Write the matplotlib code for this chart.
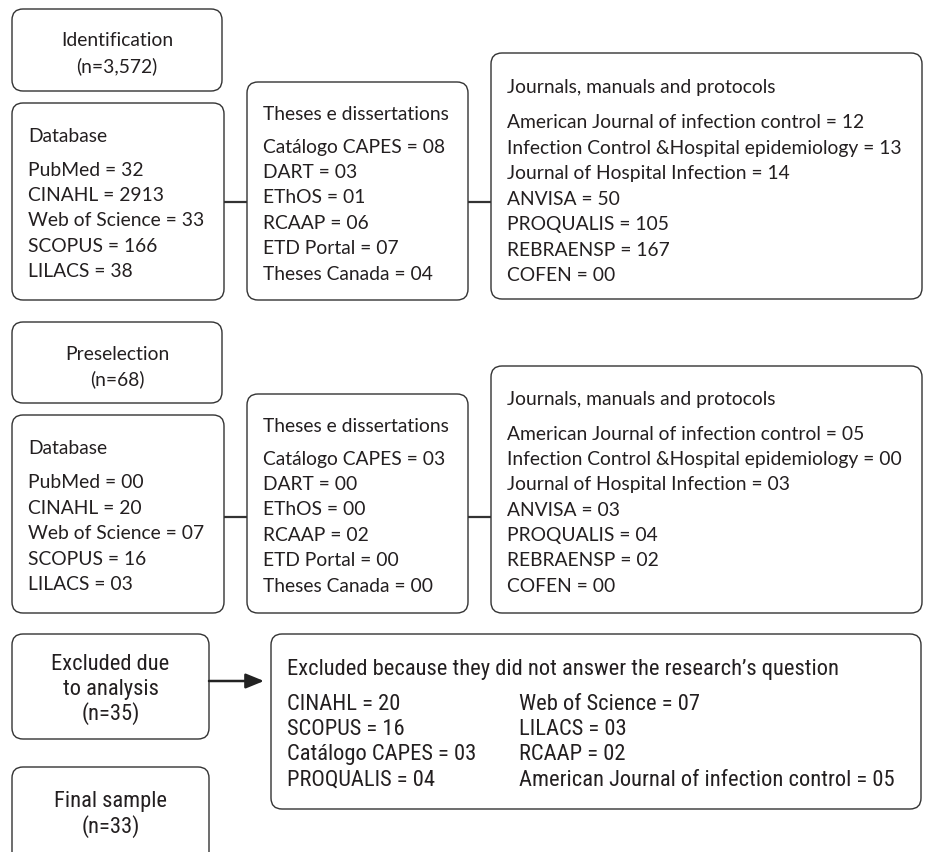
import matplotlib
matplotlib.use('Agg')
import matplotlib.pyplot as plt
from matplotlib.patches import FancyBboxPatch
from matplotlib import font_manager

# --- Data ---
stage_titles = [['Identification', '(n=3,572)'], ['Preselection', '(n=68)']]

db_title = 'Database'
db_sources = ['PubMed', 'CINAHL', 'Web of Science', 'SCOPUS', 'LILACS']
db_ident = ['32', '2913', '33', '166', '38']
db_presel = ['00', '20', '07', '16', '03']

theses_title = 'Theses e dissertations'
theses_sources = ['Catálogo CAPES', 'DART', 'EThOS', 'RCAAP', 'ETD Portal', 'Theses Canada']
theses_ident = ['08', '03', '01', '06', '07', '04']
theses_presel = ['03', '00', '00', '02', '00', '00']

journal_title = 'Journals, manuals and protocols'
journal_sources = ['American Journal of infection control', 'Infection Control &Hospital epidemiology',
                   'Journal of Hospital Infection', 'ANVISA', 'PROQUALIS', 'REBRAENSP', 'COFEN']
journal_ident = ['12', '13', '14', '50', '105', '167', '00']
journal_presel = ['05', '00', '03', '03', '04', '02', '00']

excluded_label = ['Excluded due', 'to analysis', '(n=35)']
final_label = ['Final sample', '(n=33)']
excl_title = "Excluded because they did not answer the research\u2019s question"
excl_col1 = ['CINAHL = 20', 'SCOPUS = 16', 'Catálogo CAPES = 03', 'PROQUALIS = 04']
excl_col2 = ['Web of Science = 07', 'LILACS = 03', 'RCAAP = 02', 'American Journal of infection control = 05']

# --- Style ---
W, H = 925, 852
EDGE = '#333333'
TXT = '#231f20'
FS = 13.9
FS_COND = 16.2
LINE = 25.4
BASE = 7.5   # offset from line centre to baseline, px

available = {f.name for f in font_manager.fontManager.ttflist}
MAIN_FONT = 'Lato' if 'Lato' in available else 'DejaVu Sans'
COND_FONT = MAIN_FONT
for cand in ['Roboto Condensed', 'Liberation Sans Narrow', 'Open Sans Condensed']:
    if cand in available:
        COND_FONT = cand
        break

fig = plt.figure(figsize=(W / 100, H / 100), dpi=100)
ax = fig.add_axes([0, 0, 1, 1])
ax.set_xlim(0, W)
ax.set_ylim(H, 0)
ax.axis('off')


def put(x, y, s, font, fs, ha='left'):
    ax.text(x, y + BASE, s, fontsize=fs, family=font, color=TXT,
            ha=ha, va='baseline', zorder=3)


def box(x0, y0, x1, y1):
    p = FancyBboxPatch((x0, y0), x1 - x0, y1 - y0,
                       boxstyle='round,pad=0,rounding_size=11',
                       fc='white', ec=EDGE, lw=1.0, zorder=2)
    ax.add_patch(p)


def list_box(x0, y0, x1, y1, title, names, vals, ty, first):
    box(x0, y0, x1, y1)
    put(x0 + 16, ty, title, MAIN_FONT, FS)
    for i, (n, v) in enumerate(zip(names, vals)):
        put(x0 + 16, first + i * LINE, f'{n} = {v}', MAIN_FONT, FS)


def label_box(x0, y0, x1, y1, lines, first, font, fs):
    box(x0, y0, x1, y1)
    for i, t in enumerate(lines):
        put((x0 + x1) / 2, first + i * LINE, t, font, fs, ha='center')


def connector(x0, x1, y):
    ax.plot([x0, x1], [y, y], color=EDGE, lw=1.6, zorder=1)


# identification row
label_box(12, 9, 222, 91, stage_titles[0], 39, MAIN_FONT, FS)
list_box(12, 103, 224, 300, db_title, db_sources, db_ident, 135, 168)
list_box(247, 82, 468, 300, theses_title, theses_sources, theses_ident, 112, 145)
list_box(491, 53, 922, 299, journal_title, journal_sources, journal_ident, 86, 121)
connector(224, 247, 202)
connector(468, 491, 202)

# preselection row
label_box(12, 322, 222, 403, stage_titles[1], 352, MAIN_FONT, FS)
list_box(12, 415, 224, 613, db_title, db_sources, db_presel, 447, 481)
list_box(247, 394, 468, 613, theses_title, theses_sources, theses_presel, 424, 457)
list_box(491, 366, 922, 613, journal_title, journal_sources, journal_presel, 398, 432)
connector(224, 247, 517)
connector(468, 491, 517)

# exclusion row
label_box(12, 634, 209, 739, excluded_label, 662, COND_FONT, FS_COND)
label_box(12, 767, 209, 880, final_label, 800, COND_FONT, FS_COND)
box(271, 634, 921, 809)
put(287, 668, excl_title, COND_FONT, FS_COND)
for i, (a, b) in enumerate(zip(excl_col1, excl_col2)):
    put(287, 702 + i * LINE, a, COND_FONT, FS_COND)
    put(519, 702 + i * LINE, b, COND_FONT, FS_COND)
ax.annotate('', xy=(264, 681), xytext=(209, 681),
            arrowprops=dict(arrowstyle='-|>,head_length=1.1,head_width=0.45', color='#222222', lw=1.8,
                            shrinkA=0, shrinkB=0), zorder=3)

fig.savefig('out.png', dpi=100, facecolor='white')
